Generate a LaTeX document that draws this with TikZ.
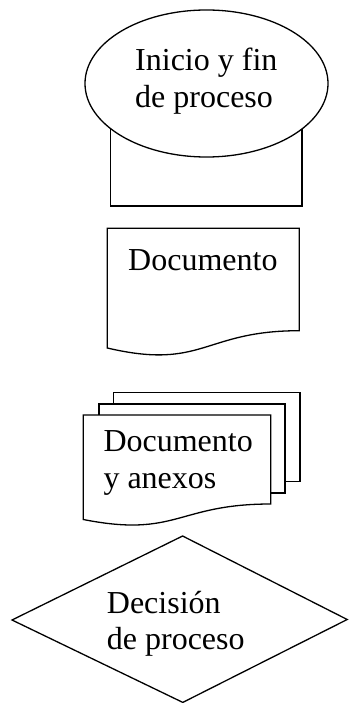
\documentclass[tikz,border=0pt]{standalone}
\usepackage{fontspec}
\setmainfont{Liberation Serif}
\begin{document}
\begin{tikzpicture}[x=1pt,y=-1pt,
  shapeline/.style={draw=black,line width=1.3pt,fill=white,line join=miter},
  lbl/.style={anchor=base west,inner sep=0pt,font=\fontsize{32}{36.5}\selectfont}]
\useasboundingbox (0,0) rectangle (348,703);
% start/end: rectangle behind ellipse
\path[shapeline] (110.7,115) rectangle (302,206);
\path[shapeline] (206.5,83.5) ellipse [x radius=121.5, y radius=73.5];
\node[lbl] (inicio) at (135,70.7) {\begin{tabular}[t]{@{}l@{}}Inicio y fin\\de proceso\end{tabular}};
% document
\path[shapeline] (107.3,228.3) -- (299.3,228.3) -- (299.3,330.7)
  .. controls (203.3,330.7) and (203.3,370.5) .. (107.3,348) -- cycle;
\node[lbl] (doc) at (128,270) {Documento};
% multi document
\path[shapeline] (113.3,392.7) rectangle (300,481.7);
\path[shapeline] (99,404) rectangle (285,493);
\path[shapeline] (83.3,415) -- (270.7,415) -- (270.7,504)
  .. controls (177,504) and (177,538) .. (83.3,519.5) -- cycle;
\node[lbl] (multi) at (103.3,451.7) {\begin{tabular}[t]{@{}l@{}}Documento\\y anexos\end{tabular}};
% decision
\path[shapeline] (12,620) -- (182.6,536) -- (347.2,619.5) -- (182.8,702.4) -- cycle;
\node[lbl] (dec) at (106.7,613.3) {\begin{tabular}[t]{@{}l@{}}Decisión\\de proceso\end{tabular}};
\end{tikzpicture}
\end{document}
